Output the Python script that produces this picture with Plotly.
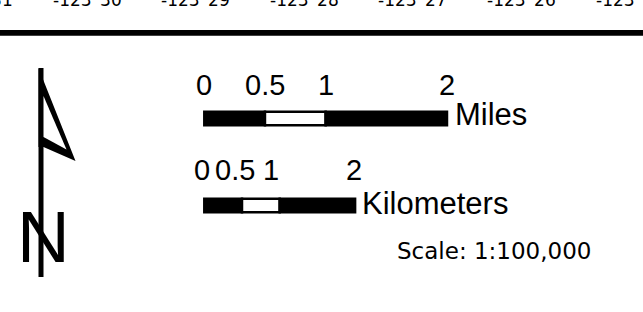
import numpy as np
import plotly.graph_objects as go

W, H = 643, 312

# ---------------- data ----------------
miles_ticks = [0, 0.5, 1, 2]
miles_labels = ["0", "0.5", "1", "2"]
km_ticks = [0, 0.5, 1, 2]
km_labels = ["0", "0.5", "1", "2"]
segment_fill = ["black", "white", "black"]
lon_minutes = [31, 30, 29, 28, 27, 26, 25]
lon_labels = ["-123°%02d'" % m for m in lon_minutes]
lon_values = [-(123 + m / 60.0) for m in lon_minutes]
units_miles = "Miles"
units_km = "Kilometers"
scale_text = "Scale: 1:100,000"
north_label = "N"

# ---------------- layout constants (pixels) ----------------
PX_PER_KM = 75.4
PX_PER_MILE = PX_PER_KM * 1.609344
BAR_X0 = 204.3
MILES_BAR_Y = 118.5
KM_BAR_Y = 205.4
BAR_W = 13.5
LON_REF = -123.5          # -123°30'
LON_REF_PX = 89
PX_PER_MIN = 108.6
KM_LABEL_SHIFT = [-2, -7, -9, -1]   # crowded km labels nudged left

ARIAL = "Liberation Sans, Arial, sans-serif"
TAHOMA = "DejaVu Sans, Verdana, sans-serif"

fig = go.Figure()

def seg(ticks):
    t = np.asarray(ticks, dtype=float)
    return t[:-1], np.diff(t)

mb, mw = seg(miles_ticks)
fig.add_trace(go.Bar(orientation="h", base=mb, x=mw, y=[MILES_BAR_Y] * len(mw),
                     width=BAR_W, xaxis="x2", yaxis="y",
                     marker=dict(color=segment_fill, line=dict(color="black", width=2.5)),
                     hoverinfo="skip", showlegend=False))
kb, kw = seg(km_ticks)
fig.add_trace(go.Bar(orientation="h", base=kb, x=kw, y=[KM_BAR_Y] * len(kw),
                     width=BAR_W, xaxis="x3", yaxis="y",
                     marker=dict(color=segment_fill, line=dict(color="black", width=2.5)),
                     hoverinfo="skip", showlegend=False))

lon_left = LON_REF - LON_REF_PX / PX_PER_MIN / 60.0
lon_right = LON_REF + (W - LON_REF_PX) / PX_PER_MIN / 60.0

ann = []
for v, t in zip(miles_ticks, miles_labels):
    ann.append(dict(x=v, y=84.5, xref="x2", yref="y", text=t, showarrow=False,
                    xanchor="center", yanchor="middle",
                    font=dict(family=ARIAL, size=29, color="black")))
for v, t, s in zip(km_ticks, km_labels, KM_LABEL_SHIFT):
    ann.append(dict(x=v, y=170, xref="x3", yref="y", text=t, showarrow=False,
                    xanchor="center", yanchor="middle", xshift=s,
                    font=dict(family=ARIAL, size=29, color="black")))
ann.append(dict(x=miles_ticks[-1], y=114, xref="x2", yref="y", text=units_miles,
                showarrow=False, xanchor="left", yanchor="middle", xshift=6,
                font=dict(family=ARIAL, size=31, color="black")))
ann.append(dict(x=km_ticks[-1], y=203, xref="x3", yref="y", text=units_km,
                showarrow=False, xanchor="left", yanchor="middle", xshift=5,
                font=dict(family=ARIAL, size=31, color="black")))
ann.append(dict(x=395, y=251, xref="x", yref="y", text=scale_text, showarrow=False,
                xanchor="left", yanchor="middle",
                font=dict(family=TAHOMA, size=23, color="black")))
# longitude labels of the map frame (cut by the top edge, as in the map layout);
# anchors outside the visible range are clamped and offset so plotly still draws them
eps = 1e-6
for v, t in zip(lon_values, lon_labels):
    xa = min(max(v, lon_left + eps), lon_right - eps)
    shift = (v - xa) * 60.0 * PX_PER_MIN
    ann.append(dict(x=xa, y=0, xref="x4", yref="y", text=t, showarrow=False,
                    xanchor="center", yanchor="middle", xshift=shift,
                    font=dict(family=TAHOMA, size=17, color="black")))
ann.append(dict(x=43, y=236.5, xref="x", yref="y", text=north_label, showarrow=False,
                xanchor="center", yanchor="middle",
                font=dict(family=ARIAL, size=73, color="black")))

shapes = [
    # neatline
    dict(type="rect", xref="paper", yref="y", x0=0, x1=1, y0=30, y1=35.7,
         fillcolor="black", line=dict(width=0), layer="above"),
    # north arrow shaft
    dict(type="rect", xref="x", yref="y", x0=38.5, x1=43.5, y0=68, y1=277,
         fillcolor="black", line=dict(width=0)),
    # arrow head outline
    dict(type="path", xref="x", yref="y",
         path="M 38.5,68 L 75.5,161 L 43.5,147 L 38.5,147 Z",
         fillcolor="black", line=dict(width=0)),
    dict(type="path", xref="x", yref="y",
         path="M 43.5,96 L 66.5,149.5 L 43.5,137 Z",
         fillcolor="white", line=dict(width=0)),
]

hidden = dict(visible=False, showgrid=False, zeroline=False, fixedrange=True)

fig.update_layout(
    width=W, height=H,
    margin=dict(l=0, r=0, t=0, b=0, pad=0),
    paper_bgcolor="white", plot_bgcolor="white",
    barmode="overlay",
    showlegend=False,
    xaxis=dict(range=[0, W], domain=[0, 1], anchor="y", **hidden),
    xaxis2=dict(range=[-BAR_X0 / PX_PER_MILE, (W - BAR_X0) / PX_PER_MILE],
                overlaying="x", anchor="y", **hidden),
    xaxis3=dict(range=[-BAR_X0 / PX_PER_KM, (W - BAR_X0) / PX_PER_KM],
                overlaying="x", anchor="y", **hidden),
    xaxis4=dict(range=[lon_left, lon_right], overlaying="x", anchor="y", **hidden),
    yaxis=dict(range=[H, 0], domain=[0, 1], anchor="x", **hidden),
    annotations=ann,
    shapes=shapes,
)

fig.write_html(
    "out.html",
    config={"displayModeBar": False},
    post_script="document.body.style.margin='0';document.body.style.padding='0';"
                "document.body.style.overflow='hidden';",
)
